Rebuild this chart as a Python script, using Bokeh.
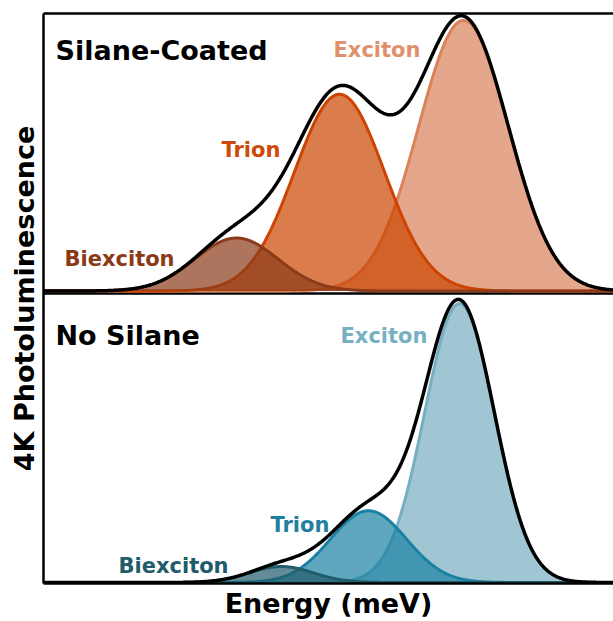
import numpy as np
from bokeh.plotting import figure
from bokeh.models import Range1d, LinearAxis, FixedTicker, Label, Span
from bokeh.embed import file_html
from bokeh.resources import INLINE

# ---------------- data ----------------
energy_min, energy_max = 1640.0, 1754.0   # meV (axis unlabeled in the original)

components = ["Biexciton", "Trion", "Exciton"]

# Silane-coated sample: Gaussian fit parameters (center meV, sigma meV, amplitude a.u.)
coated_center = [1678.6, 1699.2, 1724.0]
coated_sigma = [8.3, 9.0, 9.0]
coated_amp = [191, 709, 975]

# No-silane sample
bare_center = [1687.6, 1705.0, 1723.2]
bare_sigma = [6.4, 7.6, 7.0]
bare_amp = [55, 247, 960]

coated_colors = ["#8B3A1A", "#CC4400", "#DA825A"]
coated_text_colors = ["#8B3A16", "#CC4A0A", "#E0916C"]
bare_colors = ["#225B69", "#1A81A2", "#77AEC2"]
bare_text_colors = ["#225B69", "#1F80A0", "#78B0C2"]

# ---------------- figure ----------------
FONT = "DejaVu Sans"
p = figure(width=613, height=621,
           x_range=Range1d(energy_min, energy_max),
           y_range=Range1d(-3.4, 1958.8),
           output_backend="svg", toolbar_location=None)
p.extra_y_ranges = {"coated": Range1d(-1053.8, 1000.0)}

p.grid.visible = False
p.outline_line_color = None
p.min_border_left = 43
p.min_border_right = 0
p.min_border_top = 13
p.min_border_bottom = 37
p.background_fill_color = "white"
p.border_fill_color = "white"

bottom_axis = p.below[0]
left_axis = p.left[0]
top_axis = LinearAxis()
p.add_layout(top_axis, "above")
for ax in (bottom_axis, left_axis, top_axis):
    ax.ticker = FixedTicker(ticks=[])
    ax.major_tick_line_color = None
    ax.minor_tick_line_color = None
    ax.major_label_text_font_size = "0px"
    ax.major_label_standoff = 0
    ax.major_tick_out = 0
    ax.major_tick_in = 0
    ax.axis_line_color = "black"
    ax.axis_line_width = 2.5
    ax.axis_label_text_font = FONT
    ax.axis_label_text_font_style = "bold"
    ax.axis_label_text_font_size = "27px"
    ax.axis_label_text_color = "black"
bottom_axis.axis_label = "Energy (meV)"
left_axis.axis_label = "4K Photoluminescence"
bottom_axis.axis_label_standoff = 4
left_axis.axis_label_standoff = 4
top_axis.axis_label = None
top_axis.axis_label_standoff = 0

# divider between the two panels
divider = Span(location=994.8, dimension="width", line_color="black",
               line_width=2.5, level="underlay")
p.add_layout(divider)

x = np.linspace(energy_min, energy_max, 800)


def gauss(c, s, a):
    return a * np.exp(-0.5 * ((x - c) / s) ** 2)


def panel(centers, sigmas, amps, colors, range_name):
    total = np.zeros_like(x)
    order = [2, 1, 0]  # exciton, trion, biexciton
    kw = {} if range_name is None else {"y_range_name": range_name}
    for i in order:
        y = gauss(centers[i], sigmas[i], amps[i])
        total += y
        p.varea(x=x, y1=0, y2=y, fill_color=colors[i], fill_alpha=0.7, **kw)
        p.line(x, y, line_color=colors[i], line_width=3, **kw)
    p.line(x, total, line_color="black", line_width=3.5, **kw)


panel(bare_center, bare_sigma, bare_amp, bare_colors, None)
panel(coated_center, coated_sigma, coated_amp, coated_colors, "coated")


def label(xv, yv, text, color, size, rng=None):
    kw = {} if rng is None else {"y_range_name": rng}
    p.add_layout(Label(x=xv, y=yv, text=text, text_color=color,
                       text_font=FONT, text_font_style="bold",
                       text_font_size=size, text_baseline="alphabetic",
                       text_align="left", **kw))


# top panel labels
label(1642.4, 867, "Silane-Coated", "black", "27px", "coated")
label(1698.0, 867, components[2], coated_text_colors[2], "21px", "coated")
label(1675.6, 507, components[1], coated_text_colors[1], "21px", "coated")
label(1644.2, 115, components[0], coated_text_colors[0], "21px", "coated")

# bottom panel labels
label(1642.4, 849, "No Silane", "black", "27px")
label(1699.4, 849, components[2], bare_text_colors[2], "21px")
label(1685.4, 199, components[1], bare_text_colors[1], "21px")
label(1655.0, 58, components[0], bare_text_colors[0], "21px")

open("out.html", "w").write(file_html(p, INLINE))
